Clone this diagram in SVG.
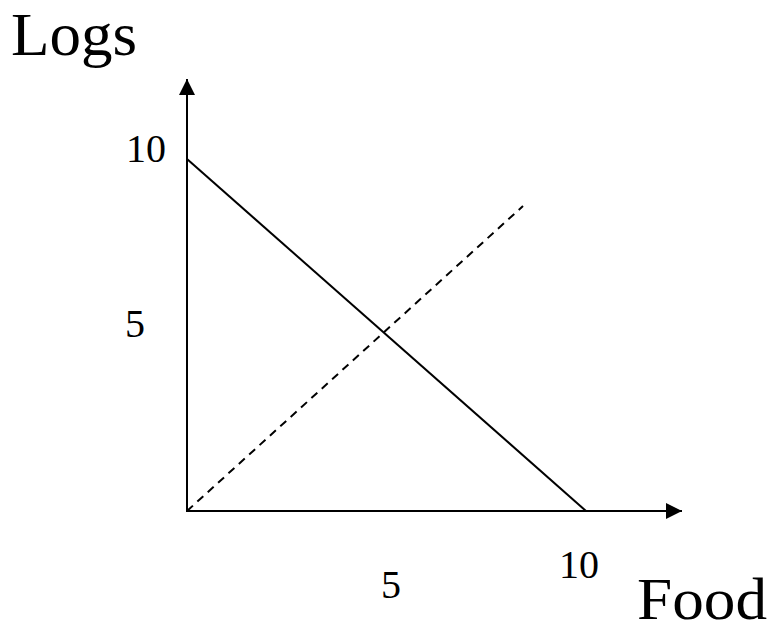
<svg xmlns="http://www.w3.org/2000/svg" width="771" height="633" viewBox="0 0 771 633">
<style>
text{font-family:"Liberation Serif","Times New Roman",serif;fill:#000}
.big{font-size:62px}
.num{font-size:40px}
.ln{stroke:#000;stroke-width:2;fill:none}
</style>
<defs>
<marker id="arr" markerWidth="16" markerHeight="16" refX="16" refY="8" orient="auto" markerUnits="userSpaceOnUse">
<path d="M0,0 L16,8 L0,16 Z" fill="#000"/>
</marker>
</defs>
<rect width="771" height="633" fill="#fff"/>
<g id="connectors">
<line class="ln" x1="187" y1="511" x2="187" y2="79" marker-end="url(#arr)"/>
<line class="ln" x1="186" y1="511" x2="682" y2="511" marker-end="url(#arr)"/>
<line class="ln" x1="187" y1="159" x2="586" y2="511"/>
<line class="ln" x1="187" y1="511" x2="523" y2="206" stroke-dasharray="8,6"/>
</g>
<g id="labels">
<text class="big" x="11" y="55" textLength="126" lengthAdjust="spacingAndGlyphs">Logs</text>
<text x="637" y="619" font-size="60" textLength="130" lengthAdjust="spacingAndGlyphs">Food</text>
<text class="num" x="126" y="162">10</text>
<text class="num" x="125" y="337">5</text>
<text class="num" x="381" y="598">5</text>
<text class="num" x="559" y="578">10</text>
</g>
</svg>
